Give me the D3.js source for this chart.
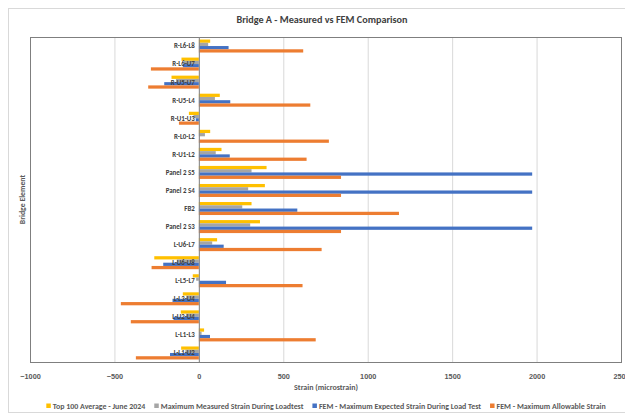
<!DOCTYPE html>
<html><head><meta charset="utf-8">
<script src="https://cdn.jsdelivr.net/npm/d3@7"></script>
<style>body{margin:0;background:#fff}svg{display:block;font-family:Carlito,Calibri,"Liberation Sans Narrow","Liberation Sans",Arial,sans-serif}</style>
</head><body><svg id="c" width="625" height="418"></svg>
<script>
const categories = ["R-L6-L8","R-L6-U7","R-U5-U7","R-U5-L4","R-U1-U3","R-L0-L2","R-U1-L2","Panel 2 S5","Panel 2 S4","FB2","Panel 2 S3","L-U6-L7","L-U6-U8","L-L5-L7","L-L3-U4","L-U2-U4","L-L1-L3","L-L1-U2"];
const top100      = [67,-103,-162,124,-59,67,134,401,391,312,362,108,-264,-36,-95,-107,31,-105];
const measured    = [55,-88,-136,95,-32,36,100,312,292,257,304,79,-130,-16,-75,-77,16,-80];
const femExpected = [176,-95,-205,186,-18,0,183,1974,1974,583,1974,147,-211,161,-156,-150,66,-171];
const femAllowable= [618,-284,-300,660,-118,770,638,842,842,1185,842,727,-280,614,-462,-403,692,-373];
const seriesNames = ["Top 100 Average - June 2024","Maximum Measured Strain During Loadtest","FEM - Maximum Expected Strain During Load Test","FEM - Maximum Allowable Strain"];
const colors = ["#FFC000","#A5A5A5","#4472C4","#ED7D31"];
const xTicks = [-1000,-500,0,500,1000,1500,2000,2500];
const seriesData = [top100, measured, femExpected, femAllowable];

const svg = d3.select("#c");
const L=30, R=621, T=37, B=362;
svg.append("rect").attr("x",8.5).attr("y",8.5).attr("width",640).attr("height",404).attr("fill","#fff").attr("stroke","#d9d9d9");

const x = d3.scaleLinear().domain([-1000,2500]).range([L,R]);
const y = d3.scaleBand().domain(categories).range([T,B]).paddingInner(0.28).paddingOuter(0.14);
const ys = d3.scaleBand().domain(d3.range(4)).range([0,y.bandwidth()]);

svg.append("g").selectAll("line").data(xTicks).join("line")
  .attr("x1",d=>x(d)+0.5).attr("x2",d=>x(d)+0.5).attr("y1",T).attr("y2",B)
  .attr("stroke","#d9d9d9").attr("stroke-width",1);

const g = svg.append("g");
seriesData.forEach((arr,si)=>{
  g.append("g").selectAll("rect").data(arr).join("rect")
   .attr("x",d=>x(Math.min(0,d)))
   .attr("width",d=>Math.abs(x(d)-x(0)))
   .attr("y",(d,i)=>y(categories[i])+ys(si))
   .attr("height",ys.bandwidth())
   .attr("fill",colors[si]);
});

svg.append("rect").attr("x",L+0.5).attr("y",T+0.5).attr("width",R-L).attr("height",B-T)
  .attr("fill","none").attr("stroke","#7f7f7f");
svg.append("line").attr("x1",x(0)+0.5).attr("x2",x(0)+0.5).attr("y1",T).attr("y2",B).attr("stroke","#868686");

svg.append("g").selectAll("text").data(categories).join("text")
  .attr("x",x(0)-4).attr("y",d=>y(d)+y.bandwidth()/2)
  .attr("dy","0.35em").attr("text-anchor","end")
  .attr("font-size",6.9).attr("font-weight","bold").attr("fill","#404040").text(d=>d);

const xa = d3.axisBottom(x).tickValues(xTicks).tickSize(0).tickPadding(0).tickFormat(d3.format("d"));
const ax = svg.append("g").attr("transform",`translate(0,${B+12})`).call(xa);
ax.select(".domain").remove();
ax.selectAll("text").attr("font-size",7.3).attr("font-weight","bold").attr("fill","#595959").attr("font-family","inherit");

svg.append("text").attr("x",322).attr("y",23).attr("text-anchor","middle")
  .attr("font-size",10.2).attr("font-weight","bold").attr("fill","#404040").text("Bridge A - Measured vs FEM Comparison");
svg.append("text").attr("x",326).attr("y",390).attr("text-anchor","middle")
  .attr("font-size",8).attr("font-weight","bold").attr("fill","#595959").text("Strain (microstrain)");
svg.append("text").attr("transform",`translate(25,${(T+B)/2}) rotate(-90)`).attr("text-anchor","middle")
  .attr("font-size",7.8).attr("font-weight","bold").attr("fill","#595959").text("Bridge Element");

// legend laid out sequentially and centred
const leg = svg.append("g");
const legFont = 7.9;
const items = seriesNames.map((n,i)=>{
  const gi = leg.append("g");
  gi.append("rect").attr("x",0).attr("y",-5).attr("width",4.5).attr("height",4.5).attr("fill",colors[i]);
  const t = gi.append("text").attr("x",6.5).attr("y",0).attr("font-size",legFont).attr("font-weight","bold")
    .attr("fill","#595959").text(n);
  return {gi, w: 6.5 + t.node().getComputedTextLength()};
});
const gap = 9;
const total = d3.sum(items, d=>d.w) + gap*(items.length-1);
let cx = 326 - total/2;
items.forEach(it=>{ it.gi.attr("transform",`translate(${cx},408.5)`); cx += it.w + gap; });
</script></body></html>
